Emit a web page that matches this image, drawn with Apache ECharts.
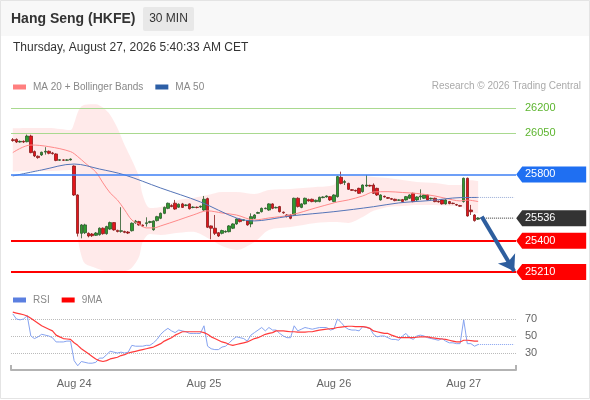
<!DOCTYPE html>
<html><head><meta charset="utf-8">
<script src="https://cdn.jsdelivr.net/npm/echarts@6/dist/echarts.min.js"></script>
<style>html,body{margin:0;padding:0;background:#fff}#c{width:590px;height:400px}</style>
</head><body><div id="c"></div>
<script>
// ---- categories / axis labels ----
const NCAT = 140;
const dayIdx = [17, 53, 89, 125];
const dayLabels = ['Aug 24', 'Aug 25', 'Aug 26', 'Aug 27'];

// ---- candles (30 min) ----
const open = [26010,26012,25996,26000,25998,26032,25938,25910,25918,25935,25940,25930,25924,25886,25888,25886,25888,25851,25676,25444,
25448,25444,25440,25432,25436,25475,25442,25470,25509,25462,25456,25455,25452,25460,25508,25515,25494,25503,25510,25466,
25521,25535,25565,25595,25612,25626,25602,25622,25612,25622,25600,25602,25603,25585,25654,25489,25475,25448,25444,25452,
25454,25475,25501,25529,25522,25521,25501,25535,25565,25575,25593,25585,25622,25598,25606,25572,25555,25555,25555,25656,
25601,25622,25648,25650,25636,25636,25660,25664,25666,25636,25666,25783,25752,25746,25708,25704,25716,25696,25730,25734,
25736,25716,25646,25668,25660,25654,25650,25644,25648,25646,25656,25686,25646,25664,25656,25676,25652,25656,25638,25646,
25622,25636,25626,25618,25612,25636,25777,25585,25555,25530];
const close = [26005,25996,26000,25996,26032,25932,25912,25902,25934,25940,25928,25926,25885,25889,25886,25888,25893,25676,25444,25495,
25495,25428,25430,25446,25475,25442,25485,25509,25465,25455,25460,25450,25446,25505,25518,25495,25488,25508,25515,25519,
25545,25565,25601,25626,25606,25591,25620,25601,25616,25593,25603,25600,25608,25650,25481,25475,25444,25428,25461,25456,
25489,25501,25531,25515,25526,25495,25545,25555,25570,25595,25596,25622,25595,25601,25575,25568,25546,25535,25656,25606,
25622,25656,25640,25636,25644,25662,25664,25670,25646,25676,25787,25746,25757,25710,25704,25700,25686,25736,25736,25730,
25686,25676,25676,25664,25656,25650,25642,25646,25636,25666,25676,25636,25664,25670,25676,25646,25656,25636,25634,25622,
25646,25624,25624,25615,25608,25777,25549,25575,25521,25536];
const low = [25998,25990,25992,25990,25994,25928,25905,25895,25912,25920,25922,25920,25880,25882,25882,25882,25884,25670,25425,25414,
25440,25420,25422,25428,25430,25436,25436,25465,25460,25450,25448,25445,25440,25455,25502,25490,25482,25485,25505,25460,
25516,25530,25560,25590,25602,25586,25598,25598,25608,25588,25596,25595,25598,25580,25476,25408,25434,25422,25438,25448,
25450,25470,25496,25510,25518,25490,25481,25530,25562,25570,25590,25580,25590,25595,25570,25562,25540,25529,25550,25600,
25596,25618,25636,25632,25630,25632,25656,25660,25640,25632,25660,25740,25736,25706,25700,25696,25682,25690,25725,25726,
25682,25670,25642,25660,25652,25646,25638,25640,25632,25642,25652,25632,25640,25646,25652,25642,25648,25632,25630,25618,
25618,25620,25620,25610,25604,25630,25545,25555,25515,25525];
const high = [26020,26018,26005,26006,26041,26040,25945,25915,25938,25965,25945,25936,25928,25892,25892,25893,25897,25855,25680,25500,
25502,25450,25446,25452,25480,25480,25490,25515,25512,25466,25602,25460,25458,25510,25525,25520,25498,25541,25520,25522,
25550,25570,25606,25630,25620,25646,25625,25628,25620,25625,25608,25606,25612,25670,25660,25492,25555,25452,25466,25462,
25494,25505,25535,25534,25530,25525,25565,25560,25575,25600,25600,25626,25626,25606,25610,25576,25560,25558,25660,25662,
25626,25660,25654,25654,25648,25666,25668,25674,25670,25680,25792,25817,25767,25750,25712,25708,25720,25740,25797,25738,
25746,25720,25680,25672,25664,25658,25654,25650,25652,25670,25680,25690,25668,25710,25680,25680,25660,25660,25642,25650,
25650,25640,25630,25622,25616,25781,25781,25616,25560,25542];

// ---- Bollinger bands (MA 20), read at sample candles ----
const bbIdx   = [0,5,10,16,17,18,19,20,23,25,27,29,31,33,35,36,38,41,46,50,54,58,62,67,71,77,84,89,90,93,97,100,104,108,112,117,122,124,126,129];
const bbUpper = [26079,26081,26081,26069,26110,26175,26210,26222,26224,26204,26160,26081,25978,25888,25785,25676,25598,25604,25646,25658,25676,25694,25694,25682,25706,25712,25724,25736,25779,25791,25791,25785,25779,25767,25755,25749,25736,25736,25767,25760];
const bbLower = [25817,25821,25821,25827,25720,25420,25310,25262,25235,25220,25210,25210,25214,25236,25302,25392,25440,25434,25447,25453,25416,25368,25344,25392,25465,25483,25507,25513,25513,25507,25543,25580,25604,25610,25616,25616,25610,25610,25575,25565];
const ma20Idx = [0,5,10,16,18,20,23,25,27,29,31,33,35,37,39,41,46,50,54,58,62,67,71,77,84,89,90,93,97,100,104,108,112,117,122,124,126,129];
const ma20    = [25932,25978,25968,25938,25908,25870,25815,25749,25688,25646,25586,25525,25501,25477,25477,25489,25525,25555,25580,25567,25555,25525,25537,25555,25598,25628,25634,25646,25670,25694,25696,25691,25685,25670,25646,25640,25645,25636];
const ma50Idx = [0,8,17,24,31,41,52,62,67,71,77,89,100,107,116,124,129];
const ma50    = [25791,25827,25863,25833,25797,25718,25634,25537,25519,25528,25549,25575,25605,25628,25643,25660,25661];

// ---- RSI and its 9MA ----
const rsi = [76,70,69,70,74,50,47,49,52,51, 50,48,43,43,43,44,44,21,15,20, 19,18,18,19,24,24,28,32,31,30,
31,30,31,39,38,38,38,39,39,42, 46,52,56,59,56,54,57,56,55,53, 53,53,53,62,38,35,34,34,37,38,
42,46,49,48,47,44,51,54,57,60, 56,60,57,57,53,50,48,48,62,56, 58,60,59,58,59,60,60,60,57,58,
70,66,61,58,57,57,56,61,60,59, 52,49,50,50,48,46,46,45,50,53, 48,46,50,51,50,48,47,46,45,47,
44,42,42,41,41,69,41,41,38,40];
const rsi9 = [78,77,76,75,73.5,71,68,65,62,60, 58,56,51,49,47,46.5,46,42,39,35, 32,29,26,23,21,20,21,23,24,25,
27,28,30,31,32,33,34,35,36,37, 39,41,44,46,48,51,53,55,55,55, 55,55,55,54,52,49,47,45,43,42,
40,39,40,41,42,43,45,47,48,50, 52,53,54,56,56,56,55.5,55,55,54.5, 54.5,54.5,55,55,56,57,57.5,58,58.5,59,
60,60.5,61,61.5,61.5,61,61,61,60.5,59, 56,55,54,53,53,51,49.5,48,48,48, 48,48,48.5,49,49,49,48,47.5,47,46.5,
46,45,44,43,43,45,45,44.5,44,44];

// ---- levels ----
const greenLevels = [26200, 26050];
const blueLevel = 25800;
const redLevels = [25400, 25210];
const lastPrice = 25536;
const arrowFrom = [130, 25545];
const arrowTo = [139, 25215];

// ---- build ----
const cats = Array.from({length: NCAT}, (_, i) => String(i));
const lastI = close.length - 1;
const ohlc = open.map((o, i) => [o, close[i], low[i], high[i]]);
const pairs = (idx, v) => idx.map((x, k) => [x, v[k]]);
const bbLowPairs = pairs(bbIdx, bbLower);
const bbWidthPairs = bbIdx.map((x, k) => [x, bbUpper[k] - bbLower[k]]);
const FONT = 'Liberation Sans, Arial, sans-serif';

function tag(value, color) {
  return {coord: [NCAT - 1, value], value: value, itemStyle: {color: color}};
}

const chart = echarts.init(document.getElementById('c'), null, {renderer: 'canvas'});
chart.setOption({
  animation: false,
  backgroundColor: '#fff',
  textStyle: {fontFamily: FONT},
  graphic: [
    {type: 'rect', shape: {x: 0, y: 0, width: 590, height: 36}, style: {fill: '#f8f8f8'}, silent: true},
    {type: 'rect', shape: {x: 0.5, y: 0.5, width: 589, height: 398}, style: {fill: null, stroke: '#e4e4e4', lineWidth: 1}, silent: true},
    {type: 'text', x: 11, y: 19, style: {text: 'Hang Seng (HKFE)', fill: '#333', fontSize: 14, fontWeight: 'bold', fontFamily: FONT, align: 'left', verticalAlign: 'middle'}},
    {type: 'rect', shape: {x: 143, y: 7, width: 51, height: 24, r: 2}, style: {fill: '#e8e8e8'}},
    {type: 'text', x: 168.5, y: 19, style: {text: '30 MIN', fill: '#333', fontSize: 12, fontFamily: FONT, align: 'center', verticalAlign: 'middle'}},
    {type: 'text', x: 13, y: 48, style: {text: 'Thursday, August 27, 2026 5:40:33 AM CET', fill: '#333', fontSize: 12, fontFamily: FONT, align: 'left', verticalAlign: 'middle'}},
    {type: 'text', x: 581, y: 86, style: {text: 'Research \u00a9 2026 Trading Central', fill: '#aaa', fontSize: 10, fontFamily: FONT, align: 'right', verticalAlign: 'middle'}}
  ],
  legend: [
    {left: 13, top: 82, icon: 'rect', itemWidth: 13, itemHeight: 5, itemGap: 12, selectedMode: false, padding: 0,
     textStyle: {color: '#888', fontSize: 10, fontFamily: FONT, padding: [0, 0, 0, 2]},
     data: [{name: 'MA 20 + Bollinger Bands', itemStyle: {color: '#ff7f7f'}}, {name: 'MA 50', itemStyle: {color: '#2d5fa6'}}]},
    {left: 13, top: 295, icon: 'rect', itemWidth: 13, itemHeight: 5, itemGap: 12, selectedMode: false, padding: 0,
     textStyle: {color: '#888', fontSize: 10, fontFamily: FONT, padding: [0, 0, 0, 2]},
     data: [{name: 'RSI', itemStyle: {color: '#5b7fe0'}}, {name: '9MA', itemStyle: {color: '#ff0000'}}]}
  ],
  grid: [
    {left: 11, right: 74, top: 100, height: 182, outerBoundsMode: 'none'},
    {left: 11, right: 74, top: 302, height: 68, outerBoundsMode: 'none'}
  ],
  xAxis: [
    {type: 'category', gridIndex: 0, data: cats, boundaryGap: true, show: false},
    {type: 'category', gridIndex: 1, data: cats, boundaryGap: true,
     axisLine: {show: true, lineStyle: {color: '#b3b3b3', width: 2}},
     axisTick: {show: true, inside: true, length: 5, interval: (i) => i === 0, lineStyle: {color: '#b3b3b3', width: 2}},
     axisLabel: {interval: (i) => dayIdx.indexOf(i) >= 0, formatter: (v) => dayLabels[dayIdx.indexOf(Number(v))] || '',
                 color: '#666', fontSize: 11, margin: 8, fontFamily: FONT},
     splitLine: {show: false}}
  ],
  yAxis: [
    {type: 'value', gridIndex: 0, min: 25150, max: 26250, show: false, splitLine: {show: false}},
    {type: 'value', gridIndex: 1, position: 'right', min: 10, max: 90, interval: 20,
     axisLine: {show: false}, axisTick: {show: false},
     axisLabel: {color: '#666', fontSize: 11, margin: 9, showMinLabel: false, showMaxLabel: false, fontFamily: FONT,
                 formatter: (v) => (v === 10 || v === 90) ? '' : String(v)},
     splitLine: {show: true, showMinLine: false, showMaxLine: false, lineStyle: {color: '#bbb', type: 'dotted', width: 1}}}
  ],
  series: [
    {name: 'bbLow', type: 'line', xAxisIndex: 0, yAxisIndex: 0, stack: 'bb', data: bbLowPairs, symbol: 'none',
     smooth: 0.3, lineStyle: {opacity: 0}, silent: true, z: 1},
    {name: 'bbBand', type: 'line', xAxisIndex: 0, yAxisIndex: 0, stack: 'bb', data: bbWidthPairs, symbol: 'none',
     smooth: 0.3, lineStyle: {opacity: 0}, areaStyle: {color: 'rgba(255,120,120,0.22)'}, silent: true, z: 1},
    {name: 'candles', type: 'candlestick', xAxisIndex: 0, yAxisIndex: 0, data: ohlc, barWidth: 3, z: 2,
     itemStyle: {color: '#2f9a2f', color0: '#e3151b', borderColor: '#2a5a2a', borderColor0: '#8a1a1a', borderWidth: 0.8}},
    {name: 'MA 20 + Bollinger Bands', type: 'line', xAxisIndex: 0, yAxisIndex: 0, data: pairs(ma20Idx, ma20), symbol: 'none',
     smooth: 0.35, lineStyle: {color: '#ff8a8a', width: 1}, itemStyle: {color: '#ff7f7f'}, z: 3},
    {name: 'MA 50', type: 'line', xAxisIndex: 0, yAxisIndex: 0, data: pairs(ma50Idx, ma50), symbol: 'none',
     smooth: 0.35, lineStyle: {color: '#5575b8', width: 1}, itemStyle: {color: '#2d5fa6'}, z: 3},
    {name: 'ma50ext', type: 'line', xAxisIndex: 0, yAxisIndex: 0, data: [[lastI, ma50[ma50.length - 1]], [NCAT - 1, ma50[ma50.length - 1]]],
     symbol: 'none', lineStyle: {color: '#98acd6', width: 1, type: 'dotted'}, z: 3},
    {name: 'levels', type: 'line', xAxisIndex: 0, yAxisIndex: 0, data: [[lastI, lastPrice], [NCAT - 1, lastPrice]],
     symbol: 'none', lineStyle: {color: '#333', width: 1, type: 'dotted'}, z: 4,
     markLine: {
       silent: true, symbol: ['none', 'none'], animation: false,
       label: {show: false},
       data: [
         ...greenLevels.map(v => ({yAxis: v, lineStyle: {color: '#a9d98f', width: 1, type: 'solid'},
           label: {show: true, position: 'end', distance: 9, color: '#5db52f', fontSize: 11, fontFamily: FONT, formatter: String(v)}})),
         {yAxis: blueLevel, lineStyle: {color: '#3d7ff5', width: 1.5, type: 'solid'}},
         ...redLevels.map(v => ({yAxis: v, lineStyle: {color: '#ff0000', width: 2, type: 'solid'}})),
         [{coord: arrowFrom, symbol: 'none'}, {coord: arrowTo, symbol: 'arrow', symbolSize: 15,
           lineStyle: {color: '#2e5e9e', width: 4, type: 'solid'}}]
       ]
     },
     markPoint: {
       silent: true, animation: false,
       symbol: 'path://M0,8L6,0L70,0L70,16L6,16Z', symbolSize: [70, 16], symbolKeepAspect: false, symbolOffset: [37, 0],
       label: {show: true, position: 'inside', offset: [-11, 0], color: '#fff', fontSize: 11, fontFamily: FONT, formatter: (p) => String(p.value)},
       data: [tag(blueLevel, '#1f6ff2'), tag(lastPrice, '#333333'), tag(redLevels[0], '#ff0000'), tag(redLevels[1], '#ff0000')]
     }},
    {name: 'RSI', type: 'line', xAxisIndex: 1, yAxisIndex: 1, data: rsi, symbol: 'none',
     lineStyle: {color: '#86a3f0', width: 1}, itemStyle: {color: '#5b7fe0'}, z: 3},
    {name: '9MA', type: 'line', xAxisIndex: 1, yAxisIndex: 1, data: rsi9, symbol: 'none',
     lineStyle: {color: '#ff3b3b', width: 1.2}, itemStyle: {color: '#ff0000'}, z: 4},
    {name: 'rsiext', type: 'line', xAxisIndex: 1, yAxisIndex: 1, data: [[lastI, rsi[lastI]], [NCAT - 1, rsi[lastI]]],
     symbol: 'none', lineStyle: {color: '#86a3f0', width: 1, type: 'dotted'}, z: 3}
  ]
});
</script></body></html>
